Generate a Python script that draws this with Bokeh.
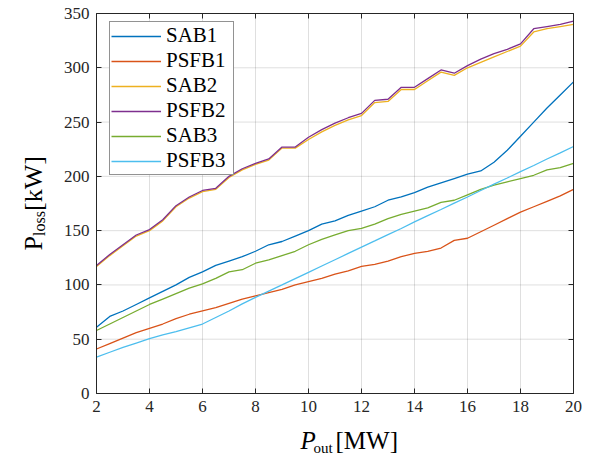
import numpy as np
from bokeh.plotting import figure
from bokeh.models import (Legend, LegendItem, LinearAxis, Label, FixedTicker,
                          Range1d)
from bokeh.embed import file_html
from bokeh.resources import INLINE

# ---------------- data ----------------
p_out = [2.0, 2.5, 3.0, 3.5, 4.0, 4.5, 5.0, 5.5, 6.0, 6.5, 7.0, 7.5, 8.0, 8.5,
         9.0, 9.5, 10.0, 10.5, 11.0, 11.5, 12.0, 12.5, 13.0, 13.5, 14.0, 14.5,
         15.0, 15.5, 16.0, 16.5, 17.0, 17.5, 18.0, 18.5, 19.0, 19.5, 20.0]

sab1 = [61, 71, 76, 82, 88, 94, 100, 107, 112, 118, 122, 126, 131, 137, 140,
        145, 150, 156, 159, 164, 168, 172, 178, 181, 185, 190, 194, 198, 202,
        205, 213, 224, 237, 250, 263, 275, 287]
psfb1 = [41, 46, 51, 56, 60, 64, 69, 73, 76, 79, 83, 87, 90, 93, 96, 100, 103,
         106, 110, 113, 117, 119, 122, 126, 129, 131, 134, 141, 143, 149, 155,
         161, 167, 172, 177, 182, 188]
sab2 = [117, 127, 136, 145, 150, 159, 172, 180, 186, 188, 199, 206, 211, 215,
        226, 226, 234, 241, 247, 252, 256, 268, 269, 280, 280, 288, 296, 293,
        300, 305, 310, 315, 320, 333, 336, 338, 340]
psfb2 = [118, 128, 137, 146, 151, 160, 173, 181, 187, 189, 200, 207, 212, 216,
         227, 227, 236, 243, 249, 254, 258, 270, 271, 282, 282, 290, 298, 295,
         302, 308, 313, 317, 322, 336, 338, 340, 343]
sab3 = [58, 64, 70, 76, 82, 87, 92, 97, 101, 106, 112, 114, 120, 123, 127, 131,
        137, 142, 146, 150, 152, 156, 161, 165, 168, 171, 176, 178, 183, 188,
        192, 195, 198, 201, 206, 208, 212]
psfb3 = [33.5, 38, 42.5, 46.5, 50.5, 54, 57, 60.5, 64, 70, 76, 82.5, 88.5,
         94.3, 100, 105.8, 111.6, 117.4, 123.2, 129, 134.8, 140.5, 146.3, 152,
         158, 163.8, 169.5, 175.3, 181, 187, 192.8, 198.5, 204.3, 210, 216,
         221.7, 227.5]

series_names = ["SAB1", "PSFB1", "SAB2", "PSFB2", "SAB3", "PSFB3"]
series_values = [sab1, psfb1, sab2, psfb2, sab3, psfb3]
series_colors = ["#0072BD", "#D95319", "#EDB120", "#7E2F8E", "#77AC30", "#4DBEEE"]

x_ticks = [2, 4, 6, 8, 10, 12, 14, 16, 18, 20]
y_ticks = [0, 50, 100, 150, 200, 250, 300, 350]
x_lim = (2, 20)
y_lim = (0, 350)

FONT = "Liberation Serif"
AX = "#262626"

# ---------------- layout (pixels) ----------------
W, H = 589, 458
AX_L, AX_R, AX_T, AX_B = 96, 573, 13, 393    # axes box in canvas pixels
sx_per = (AX_R - AX_L) / (x_lim[1] - x_lim[0])
sy_per = (AX_B - AX_T) / (y_lim[1] - y_lim[0])
xr = Range1d(x_lim[0] - AX_L / sx_per, x_lim[1] + (W - AX_R) / sx_per)
yr = Range1d(y_lim[0] - (H - AX_B) / sy_per, y_lim[1] + AX_T / sy_per)

def dx(px):  # canvas pixel -> data x
    return xr.start + px / sx_per

def dy(py):  # canvas pixel (from top) -> data y
    return yr.end - py / sy_per

p = figure(width=W, height=H, output_backend="svg", toolbar_location=None,
           x_range=xr, y_range=yr, x_axis_location=None, y_axis_location=None,
           min_border=0)
p.min_border_left = p.min_border_right = p.min_border_top = p.min_border_bottom = 0
p.outline_line_color = None
p.background_fill_color = "white"
p.border_fill_color = "white"
p.grid.visible = False

# grid lines (from tick lists)
p.segment(x0=x_ticks, x1=x_ticks, y0=[y_lim[0]] * len(x_ticks),
          y1=[y_lim[1]] * len(x_ticks), line_color=AX, line_alpha=0.15, line_width=1)
p.segment(x0=[x_lim[0]] * len(y_ticks), x1=[x_lim[1]] * len(y_ticks),
          y0=y_ticks, y1=y_ticks, line_color=AX, line_alpha=0.15, line_width=1)

def make_axis(ticks, loc, bounds, show_labels):
    ax = LinearAxis(fixed_location=loc, bounds=bounds)
    ax.ticker = FixedTicker(ticks=ticks)
    ax.axis_line_color = AX
    ax.axis_line_width = 1
    ax.major_tick_line_color = AX
    ax.major_tick_in = 5
    ax.major_tick_out = 0
    ax.minor_tick_line_color = None
    ax.major_label_text_font = FONT
    ax.major_label_text_color = AX
    if show_labels:
        ax.major_label_text_font_size = "17px"
        ax.major_label_standoff = 7
    else:
        ax.major_label_text_font_size = "0px"
        ax.major_label_text_color = None
    return ax

p.add_layout(make_axis(x_ticks, y_lim[0], x_lim, True), "below")
p.add_layout(make_axis(y_ticks, x_lim[0], y_lim, True), "left")
p.add_layout(make_axis(x_ticks, y_lim[1], x_lim, False), "above")
p.add_layout(make_axis(y_ticks, x_lim[1], y_lim, False), "right")

items = []
for name, vals, col in zip(series_names, series_values, series_colors):
    r = p.line(p_out, vals, line_color=col, line_width=1.3)
    items.append(LegendItem(label=name, renderers=[r]))

leg = Legend(items=items, location=(109, H - 175))
leg.label_text_font = FONT
leg.label_text_font_size = "21px"
leg.label_text_color = "black"
leg.label_height = 20
leg.label_width = 66
leg.glyph_height = 20
leg.glyph_width = 50
leg.label_standoff = 5
leg.spacing = 0
leg.padding = 1
leg.margin = 0
leg.border_line_color = AX
leg.border_line_width = 1
leg.background_fill_color = "white"
leg.background_fill_alpha = 1
p.add_layout(leg, "center")

# axis labels with subscripts
def lab(text, px, py, size, style="normal", angle=0):
    p.add_layout(Label(x=dx(px), y=dy(py), text=text,
                       text_font=FONT, text_font_size=size,
                       text_font_style=style, text_color="black",
                       text_baseline="alphabetic", text_align="left",
                       angle=angle))

lab("P", 300, 440, "25px", "italic")
lab("out", 313, 447, "15px")
lab("[MW]", 335, 440, "25px")

lab("P", 33, 250, "26px", angle=np.pi / 2)
lab("loss", 39, 235.5, "16px", angle=np.pi / 2)
lab("[kW]", 33, 210.5, "26px", angle=np.pi / 2)

open("out.html", "w").write(file_html(p, INLINE))
